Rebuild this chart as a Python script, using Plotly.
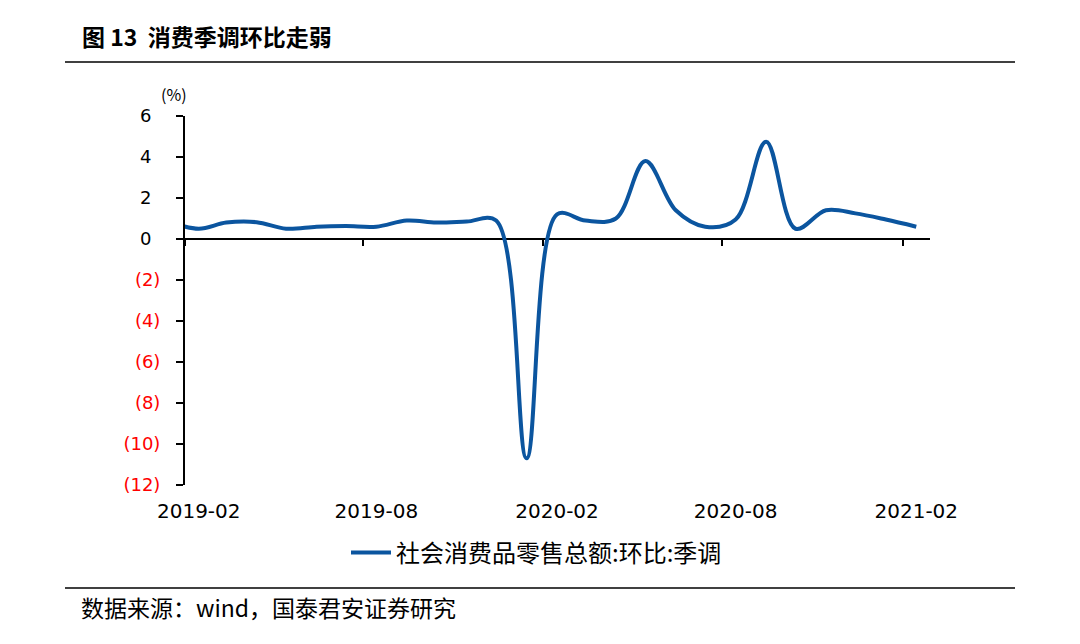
import plotly.graph_objects as go

# ---- data ----
months = ["2019-01", "2019-02", "2019-03", "2019-04", "2019-05", "2019-06",
          "2019-07", "2019-08", "2019-09", "2019-10", "2019-11", "2019-12",
          "2020-01", "2020-02", "2020-03", "2020-04", "2020-05", "2020-06",
          "2020-07", "2020-08", "2020-09", "2020-10", "2020-11", "2020-12",
          "2021-01", "2021-02"]
retail_mom_sa = [0.85, 0.50, 0.80, 0.82, 0.50, 0.60,
                 0.63, 0.60, 0.90, 0.80, 0.85, 0.90,
                 -10.70, 1.20, 0.90, 1.00, 3.80, 1.40,
                 0.60, 0.95, 4.75, 0.50, 1.40, 1.25,
                 0.95, 0.60]
x_tick_labels = ["2019-02", "2019-08", "2020-02", "2020-08", "2021-02"]
y_tick_values = [6, 4, 2, 0, -2, -4, -6, -8, -10, -12]
series_name = "社会消费品零售总额:环比:季调"
title_text = "图 13  消费季调环比走弱"
source_text = "数据来源：wind，国泰君安证券研究"
unit_text = "(%)"

# ---- layout helpers ----
W, H = 1080, 644
L, R, T, B = 185, 930, 116, 485
def fx(px):
    return (px - L) / (R - L)
def fy(py):
    return (B - py) / (B - T)

x_dates = [m + "-15" for m in months]
x_range = ["2019-02-01", "2021-03-01"]
y_range = [-12, 6]

def ylab(v):
    if v < 0:
        return f'<span style="color:#FF0000">({abs(v)})</span>'
    return f"{v}\u2002"

LINE_COLOR = "#0B559F"
FONT = "DejaVu Sans"
CJK = "Noto Sans CJK SC"

fig = go.Figure()
fig.add_trace(go.Scatter(
    x=x_dates, y=retail_mom_sa, mode="lines", name=series_name,
    line=dict(color=LINE_COLOR, width=4, shape="spline"),
    xaxis="x2", yaxis="y", showlegend=True, hoverinfo="skip"))
fig.add_trace(go.Scatter(
    x=x_dates, y=retail_mom_sa, mode="lines", line=dict(width=0, color="rgba(0,0,0,0)"),
    xaxis="x", yaxis="y", showlegend=False, hoverinfo="skip"))

zero_pos = (0 - y_range[0]) / (y_range[1] - y_range[0])

fig.update_layout(
    width=W, height=H,
    margin=dict(l=L, r=W - R, t=T, b=H - B, autoexpand=False),
    paper_bgcolor="white", plot_bgcolor="white",
    font=dict(family=FONT, color="black", size=18),
    xaxis=dict(
        range=x_range, type="date",
        tickvals=[t + "-15" for t in x_tick_labels], ticktext=x_tick_labels,
        ticks="", showline=False, showgrid=False, zeroline=False,
        tickfont=dict(family=FONT, size=20, color="black"),
        ticklabelstandoff=12, automargin=False,
    ),
    xaxis2=dict(
        range=x_range, type="date", overlaying="x", anchor="free",
        position=zero_pos, side="bottom",
        tickvals=[t + "-01" for t in x_tick_labels], showticklabels=False,
        ticks="outside", ticklen=6, tickwidth=2, tickcolor="black",
        showline=True, linecolor="black", linewidth=2,
        showgrid=False, zeroline=False, layer="below traces", automargin=False,
    ),
    yaxis=dict(
        range=y_range, tickvals=y_tick_values,
        ticktext=[ylab(v) for v in y_tick_values],
        ticks="outside", ticklen=7, tickwidth=2, tickcolor="black",
        showline=True, linecolor="black", linewidth=2,
        showgrid=False, zeroline=False,
        tickfont=dict(family=FONT, size=18, color="black"),
        ticklabelstandoff=12, automargin=False,
    ),
    legend=dict(
        orientation="h", xref="container", yref="container",
        x=346 / W, xanchor="left", y=1 - 553 / H, yanchor="middle",
        font=dict(family=CJK, size=24, color="black"),
        bgcolor="rgba(0,0,0,0)", itemwidth=40,
    ),
    showlegend=True,
)

fig.add_annotation(x=fx(80), y=fy(36), xref="paper", yref="paper",
                   text=f"<b>{title_text}</b>", showarrow=False,
                   xanchor="left", yanchor="middle",
                   font=dict(family=CJK, size=23, color="black"))
fig.add_annotation(x=fx(79), y=fy(607), xref="paper", yref="paper",
                   text=source_text, showarrow=False,
                   xanchor="left", yanchor="middle",
                   font=dict(family=CJK, size=23, color="black"))
fig.add_annotation(x=fx(174), y=fy(94), xref="paper", yref="paper",
                   text=unit_text, showarrow=False,
                   xanchor="center", yanchor="middle",
                   font=dict(family=CJK, size=16, color="black"))

for py in (62, 588):
    fig.add_shape(type="line", xref="paper", yref="paper",
                  x0=fx(65), x1=fx(1015), y0=fy(py), y1=fy(py),
                  line=dict(color="black", width=1.5))

fig.write_html("out.html", config={"displayModeBar": False},
               post_script="document.body.style.margin='0';document.body.style.padding='0';")
